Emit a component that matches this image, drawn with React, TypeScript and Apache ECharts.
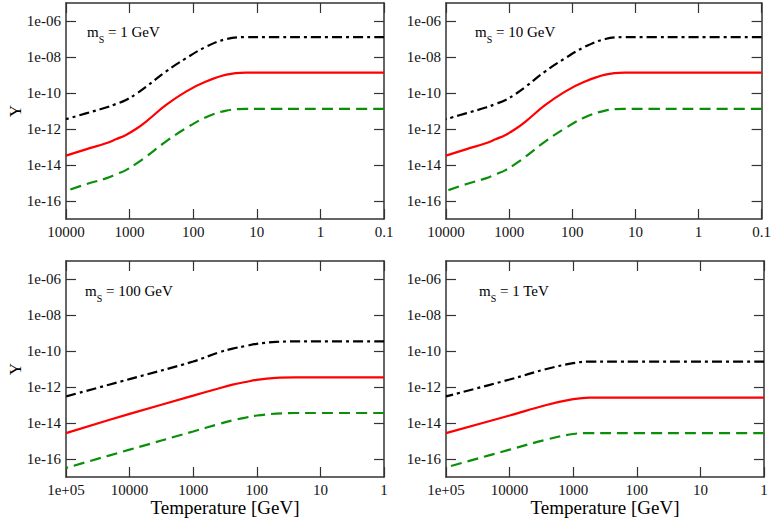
import React, { useEffect, useRef } from "react";
import * as echarts from "echarts";

const FONT = "'Liberation Serif', 'DejaVu Serif', 'Times New Roman', serif";

// ---- data (Temperature in GeV, Y values) ----
const panelMasses = ["1 GeV", "10 GeV", "100 GeV", "1 TeV"];

const tempA = [10000, 4850, 2350, 1640, 1140, 795, 550, 270, 130, 63, 30, 15, 5, 1, 0.1];
const blackA = [3.5e-12, 7.4e-12, 1.55e-11, 2.45e-11, 4.1e-11, 8.7e-11, 2.2e-10, 1.55e-9, 8.5e-9, 3.7e-8, 1.0e-7, 1.26e-7, 1.26e-7, 1.26e-7, 1.26e-7];
const redA = [3.3e-14, 7.4e-14, 1.6e-13, 2.7e-13, 4.7e-13, 1.0e-12, 2.6e-12, 2.1e-11, 1.2e-10, 4.3e-10, 1.05e-9, 1.35e-9, 1.35e-9, 1.35e-9, 1.35e-9];
const greenA = [3.6e-16, 8.5e-16, 1.8e-15, 3.0e-15, 5.2e-15, 1.15e-14, 2.9e-14, 2.0e-13, 1.1e-12, 4.5e-12, 1.05e-11, 1.3e-11, 1.3e-11, 1.3e-11, 1.3e-11];

const tempB = [10000, 4850, 2350, 1640, 1140, 795, 550, 270, 130, 63, 30, 15, 5, 1, 0.1];
const blackB = [3.5e-12, 7.4e-12, 1.55e-11, 2.45e-11, 4.1e-11, 8.7e-11, 2.2e-10, 1.55e-9, 8.5e-9, 3.7e-8, 1.0e-7, 1.26e-7, 1.26e-7, 1.26e-7, 1.26e-7];
const redB = [3.3e-14, 7.4e-14, 1.6e-13, 2.7e-13, 4.7e-13, 1.0e-12, 2.6e-12, 2.1e-11, 1.2e-10, 4.3e-10, 1.05e-9, 1.35e-9, 1.35e-9, 1.35e-9, 1.35e-9];
const greenB = [3.6e-16, 8.5e-16, 1.8e-15, 3.0e-15, 5.2e-15, 1.15e-14, 2.9e-14, 2.0e-13, 1.1e-12, 4.5e-12, 1.05e-11, 1.3e-11, 1.3e-11, 1.3e-11, 1.3e-11];

const tempC = [100000, 10000, 1000, 400, 240, 150, 100, 50, 25, 10, 1];
const blackC = [3.0e-13, 2.75e-12, 2.6e-11, 8.3e-11, 1.35e-10, 1.9e-10, 2.5e-10, 3.2e-10, 3.4e-10, 3.4e-10, 3.4e-10];
const redC = [2.75e-15, 3.2e-14, 3.3e-13, 8.3e-13, 1.35e-12, 1.9e-12, 2.5e-12, 3.2e-12, 3.4e-12, 3.4e-12, 3.4e-12];
const greenC = [3.2e-17, 3.3e-16, 3.4e-15, 8.7e-15, 1.4e-14, 2.0e-14, 2.6e-14, 3.3e-14, 3.6e-14, 3.6e-14, 3.6e-14];

const tempD = [100000, 10000, 2630, 1000, 560, 100, 10, 1];
const blackD = [3.0e-13, 2.6e-12, 1.0e-11, 2.1e-11, 2.6e-11, 2.6e-11, 2.6e-11, 2.6e-11];
const redD = [2.75e-15, 2.6e-14, 1.0e-13, 2.1e-13, 2.6e-13, 2.6e-13, 2.6e-13, 2.6e-13];
const greenD = [3.4e-17, 3.3e-16, 1.2e-15, 2.45e-15, 2.75e-15, 2.75e-15, 2.75e-15, 2.75e-15];

const xTickLabelsTop = ["0.1", "1", "10", "100", "1000", "10000"]; // 10^-1 .. 10^4
const xTickLabelsBottom = ["1", "10", "100", "1000", "10000", "1e+05"]; // 10^0 .. 10^5
const yTickExponents = [-16, -14, -12, -10, -8, -6];

const panels = [
  { temps: tempA, black: blackA, red: redA, green: greenA, xmin: -1, xmax: 4, labels: xTickLabelsTop },
  { temps: tempB, black: blackB, red: redB, green: greenB, xmin: -1, xmax: 4, labels: xTickLabelsTop },
  { temps: tempC, black: blackC, red: redC, green: greenC, xmin: 0, xmax: 5, labels: xTickLabelsBottom },
  { temps: tempD, black: blackD, red: redD, green: greenD, xmin: 0, xmax: 5, labels: xTickLabelsBottom },
];

const grids = [
  { left: 66, top: 3, width: 318, height: 216 },
  { left: 446, top: 3, width: 318, height: 216 },
  { left: 66, top: 261, width: 318, height: 216 },
  { left: 446, top: 261, width: 318, height: 216 },
];
const labelPos = [
  { x: 87, y: 24 },
  { x: 475, y: 24 },
  { x: 85, y: 283 },
  { x: 479, y: 283 },
];

const AXIS_COLOR = "#333";

function buildOption() {
  const xAxis: any[] = [];
  const yAxis: any[] = [];
  const series: any[] = [];
  const graphic: any[] = [];

  const lineAxis = { show: true, onZero: false, lineStyle: { color: AXIS_COLOR, width: 1.5 } };
  const tick = { show: true, inside: true, length: 10, lineStyle: { color: AXIS_COLOR, width: 1.2 } };
  const yTick = { ...tick, customValues: yTickExponents };

  panels.forEach((p, i) => {
    xAxis.push({
      type: "value",
      gridIndex: i,
      position: "bottom",
      min: p.xmin,
      max: p.xmax,
      interval: 1,
      inverse: true,
      axisLine: lineAxis,
      axisTick: tick,
      splitLine: { show: false },
      axisLabel: {
        show: true,
        margin: 5,
        color: "#111",
        fontFamily: FONT,
        fontSize: 15,
        showMinLabel: true,
        showMaxLabel: true,
        formatter: (v: number) => p.labels[Math.round(v) - p.xmin] ?? "",
      },
    });
    yAxis.push({
      type: "value",
      gridIndex: i,
      position: "left",
      min: -17,
      max: -5,
      axisLine: lineAxis,
      axisTick: yTick,
      splitLine: { show: false },
      axisLabel: {
        show: true,
        margin: 5,
        color: "#111",
        fontFamily: FONT,
        fontSize: 15,
        customValues: yTickExponents,
        formatter: (v: number) => "1e-" + String(-Math.round(v)).padStart(2, "0"),
      },
    });
  });
  panels.forEach((p, i) => {
    xAxis.push({
      type: "value",
      gridIndex: i,
      position: "top",
      min: p.xmin,
      max: p.xmax,
      interval: 1,
      inverse: true,
      axisLine: lineAxis,
      axisTick: tick,
      splitLine: { show: false },
      axisLabel: { show: false },
    });
    yAxis.push({
      type: "value",
      gridIndex: i,
      position: "right",
      min: -17,
      max: -5,
      axisLine: lineAxis,
      axisTick: yTick,
      splitLine: { show: false },
      axisLabel: { show: false, customValues: yTickExponents },
    });
  });

  const styles = [
    { key: "black", color: "#000000", type: [10, 4, 3, 4] },
    { key: "red", color: "#ff0000", type: "solid" },
    { key: "green", color: "#0a8f0a", type: [11, 6] },
  ];

  panels.forEach((p, i) => {
    styles.forEach((s) => {
      const ys: number[] = (p as any)[s.key];
      const pts = p.temps.map((t, k) => [Math.log10(t), Math.log10(ys[k])]);
      pts.sort((a, b) => a[0] - b[0]);
      series.push({
        type: "line",
        xAxisIndex: i,
        yAxisIndex: i,
        data: pts,
        showSymbol: false,
        symbol: "none",
        smooth: 0.4,
        lineStyle: { color: s.color, width: 2.2, type: s.type },
        silent: true,
      });
    });
  });

  panelMasses.forEach((m, i) => {
    graphic.push({
      type: "text",
      x: labelPos[i].x,
      y: labelPos[i].y,
      style: {
        text: "{a|m}{s|S}{a| = " + m + "}",
        fill: "#000",
        textVerticalAlign: "top",
        rich: {
          a: { fontFamily: FONT, fontSize: 15, lineHeight: 18, verticalAlign: "top", fill: "#000" },
          s: { fontFamily: FONT, fontSize: 10, lineHeight: 10, verticalAlign: "top", padding: [10, 0, 0, 0], fill: "#000" },
        },
      },
    });
  });

  [0, 2].forEach((gi) => {
    const g = grids[gi];
    graphic.push({
      type: "text",
      x: 15,
      y: g.top + g.height / 2,
      rotation: Math.PI / 2,
      style: {
        text: "Y",
        font: "17px " + FONT,
        fill: "#000",
        textAlign: "center",
        textVerticalAlign: "middle",
      },
    });
  });
  [2, 3].forEach((gi) => {
    const g = grids[gi];
    graphic.push({
      type: "text",
      x: g.left + g.width / 2,
      y: 507,
      style: {
        text: "Temperature [GeV]",
        font: "19px " + FONT,
        fill: "#000",
        textAlign: "center",
        textVerticalAlign: "middle",
      },
    });
  });

  return {
    animation: false,
    backgroundColor: "#ffffff",
    grid: grids.map((g) => ({ ...g, containLabel: false })),
    xAxis,
    yAxis,
    series,
    graphic,
  };
}

export default function App() {
  const ref = useRef<HTMLDivElement>(null);
  useEffect(() => {
    if (!ref.current) return;
    const chart = echarts.init(ref.current, null, { renderer: "svg" });
    chart.setOption(buildOption() as any);
    return () => chart.dispose();
  }, []);
  return (
    <div
      ref={ref}
      style={{ position: "fixed", left: 0, top: 0, width: 774, height: 519, background: "#fff" }}
    />
  );
}
